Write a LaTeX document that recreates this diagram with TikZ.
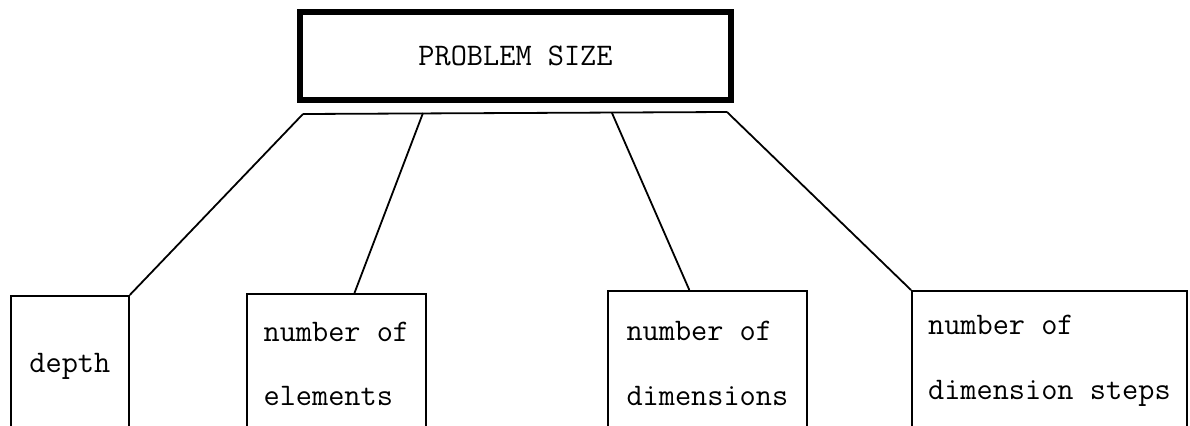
\documentclass[tikz,border=0pt]{standalone}
\usepackage{tikz}
\usetikzlibrary{positioning,calc}
\tikzset{
  psroot/.style={
    rectangle, draw=black, line width=2.6pt, inner sep=0pt,
    minimum width=215.5pt, minimum height=44pt,
    font=\fontsize{15.7}{32.5}\selectfont\ttfamily
  },
  psleaf/.style={
    rectangle, draw=black, line width=0.9pt, anchor=north west,
    align=left, inner sep=0pt,
    font=\fontsize{15.7}{32.5}\selectfont\ttfamily
  },
  psedge/.style={line width=0.9pt},
  psbar/.style={line width=0.9pt}
}
\begin{document}
\begin{tikzpicture}[x=0.5pt,y=0.5pt]
  \clip (0,0) rectangle (1190,425);
  % root and the bar under it
  \node[psroot] (size) at (515.5,369) {PROBLEM SIZE};
  \coordinate (bar1) at (303,311);
  \coordinate (bar2) at (423,312);
  \coordinate (bar3) at (612,312);
  \coordinate (bar4) at (727,313);
  \draw[psbar] (bar1) -- (bar4);
  % the four parts, cut off by the lower edge
  \node[psleaf,minimum width=59pt,minimum height=70pt] (depth) at (10,130) {depth};
  \node[psleaf,minimum width=89.5pt,minimum height=70pt] (elements) at (246,132) {number of\\elements};
  \node[psleaf,minimum width=99.5pt,minimum height=72.5pt] (dims) at (607,135) {number of\\dimensions};
  \node[psleaf,minimum width=137.5pt,minimum height=70pt] (steps) at (911,135) {number of\\dimension steps};
  \draw[psedge] (bar1) -- (depth.north east);
  \draw[psedge] (bar2) -- ($(elements.north west)!.6!(elements.north east)$);
  \draw[psedge] (bar3) -- ($(dims.north west)!.41!(dims.north east)$);
  \draw[psedge] (bar4) -- (steps.north west);
\end{tikzpicture}
\end{document}
